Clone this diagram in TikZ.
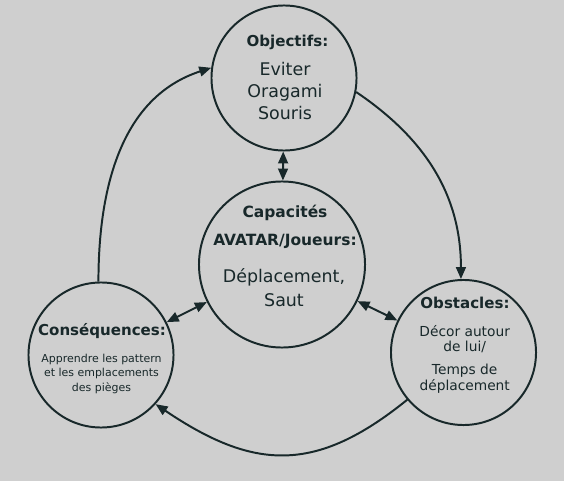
\documentclass[tikz,border=0pt]{standalone}
\usepackage{fontspec}
\setmainfont{DejaVu Sans}
\usetikzlibrary{arrows.meta}
\definecolor{ink}{RGB}{24,40,42}
\definecolor{paper}{RGB}{207,207,207}
\tikzset{
    every node/.append style={text=ink},
    bubble/.style={draw=ink, circle, line width=1.4pt, inner sep=0pt, minimum size=3.625cm},
    title/.style={font=\bfseries\fontsize{10.7pt}{13pt}\selectfont, align=center, anchor=base},
    bigtext/.style={font=\fontsize{12.4pt}{16pt}\selectfont, align=center, anchor=base},
    midtext/.style={font=\fontsize{9.8pt}{10.7pt}\selectfont, align=center, anchor=base},
    smalltext/.style={font=\fontsize{7.8pt}{10.2pt}\selectfont, align=center, anchor=base},
    link/.style={draw=ink, line width=1.4pt, >={Triangle[length=8.5pt,width=7pt]}},
}
\begin{document}
\begin{tikzpicture}[x=0.025cm, y=0.025cm]
  \fill[paper] (0,0) rectangle (564,481);

  % circles
  \node[bubble] (obj) at (284,403) {};
  \node[bubble, minimum size=4.15cm] (cap) at (282,216.5) {};
  \node[bubble] (cons) at (101,126) {};
  \node[bubble] (obs) at (463.5,128.5) {};

  % texts (base = last line)
  \node[title] (objT) at (287.5,434) {Objectifs:};
  \node[bigtext] (objB) at (285,361) {Eviter\\Oragami\\Souris};
  \node[title, font=\bfseries\fontsize{11pt}{19.9pt}\selectfont] (capT) at (285,236) {Capacités\\AVATAR/Joueurs:};
  \node[bigtext, font=\fontsize{12.4pt}{16.4pt}\selectfont] (capB) at (284,175) {Déplacement,\\Saut};
  \node[title] (consT) at (102,146) {Conséquences:};
  \node[smalltext] (consB) at (101.5,90) {Apprendre les pattern\\et les emplacements\\des pièges};
  \node[title] (obsT) at (465,172.7) {Obstacles:};
  \node[midtext] (obsB) at (464.7,91) {Décor autour\\de lui/\\[5.9pt]Temps de\\déplacement};

  % arrows
  \draw[link, <->] (obj) -- (cap);
  \draw[link, <->] (cons) -- (cap);
  \draw[link, <->] (cap) -- (obs);
  \draw[link, ->] (cons.92) to[out=90, in=198] (obj.172);
  \draw[link, ->] (obj.-11) to[out=-34, in=90] (obs.92);
  \draw[link, ->] (obs.220) to[out=219, in=-34, looseness=1.2] (cons.-42);
\end{tikzpicture}
\end{document}
